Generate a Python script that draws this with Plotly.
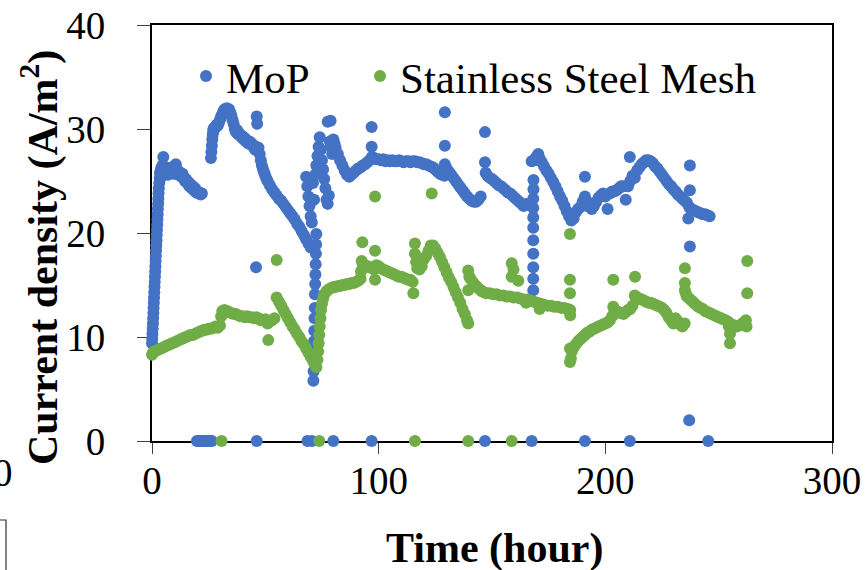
import plotly.graph_objects as go

# ---------------- data ----------------
mop_time = [
    0.0, 0.1, 0.2, 0.3, 0.4, 0.5, 0.6, 0.7, 0.8, 0.9, 1.0, 1.1, 1.2, 1.3, 1.4, 1.5, 1.6, 1.7, 1.8, 1.9,
    2.0, 2.1, 2.2, 2.3, 2.4, 2.5, 2.6, 2.7, 2.8, 2.9, 3.0, 3.2, 3.4,
    3.5, 3.8, 4.0, 4.3, 4.6, 5.0, 5.3, 5.6, 6.0, 6.5, 7.0, 7.5, 8.0, 8.5, 9.0, 9.5, 10.0, 10.5, 11.0,
    11.5, 12.0, 12.5, 13.0, 13.5, 14.0, 14.5, 15.0, 15.5, 16.0, 16.5, 17.0, 17.5, 18.0, 18.5, 19.0,
    19.5, 20.0, 20.5, 21.0, 21.5, 22.0,
    19.8, 20.4, 21.0, 21.6, 22.2, 22.8, 23.4, 24.0, 24.6, 25.2, 25.8, 26.4, 46.2,
    26.0, 26.2, 26.4, 26.6, 26.8, 27.0, 27.3, 27.6, 28.0, 28.5, 29.0, 29.5, 30.0, 30.5, 31.0, 31.5,
    32.0, 32.5, 33.0, 33.5, 34.0, 34.5, 35.0, 35.5, 36.0, 36.5, 37.0, 37.5, 38.0, 38.5, 39.0, 39.5,
    40.0, 40.5, 41.0, 41.5, 42.0, 42.5, 43.0, 43.5, 44.0, 44.5, 45.0, 45.5, 46.0, 46.5, 47.0, 47.5,
    48.0, 48.5, 49.0, 49.5, 50.0, 50.5, 51.0, 52.0, 53.0, 54.0, 55.0, 56.0, 57.0, 58.0, 59.0, 60.0,
    61.0, 62.0, 63.0, 64.0, 65.0, 66.0, 67.0, 68.0, 69.0, 70.0,
    46.2, 46.4, 45.9,
    71.2, 71.3, 71.35, 71.4, 71.5, 71.6, 71.7, 71.8, 71.9, 72.0, 72.1, 72.2, 72.3, 72.4, 72.5,
    68.0, 68.5, 69.0, 69.5, 70.0, 70.5, 71.0, 71.5, 72.0, 72.5, 73.0, 73.5, 74.0, 74.5, 75.0, 75.5,
    76.0, 76.5, 77.0, 77.5, 78.0, 78.5, 79.0, 79.5, 80.0, 80.5, 77.5, 78.8,
    81, 82, 83, 84, 85, 86, 87, 88, 89, 90, 91, 92, 93, 94, 95, 96, 97, 98, 99, 100, 101, 102, 103,
    104, 105, 106, 107, 108, 109, 110, 111, 112, 113, 114, 115, 116, 117, 118, 119, 120, 121, 122,
    123, 124, 125, 126, 127, 128, 129,
    96.9, 96.9, 129.2, 129.2, 129.2,
    130, 131, 132, 133, 134, 135, 136, 137, 138, 139, 140, 141, 142, 143, 144, 145,
    146.9, 146.9, 147.2,
    148, 149, 150, 151, 152, 153, 154, 155, 156, 157, 158, 159, 160, 161, 162, 163, 164, 165,
    168.2, 168.2, 168.2, 168.2, 168.2, 168.2, 168.2, 168.2, 168.2, 168.3, 168.3,
    167.5, 168.8, 169.5, 170.4, 171, 172, 173, 174, 175, 176, 177, 178, 179, 180, 181, 182, 183, 184,
    185, 186,
    187, 188, 189, 190, 191, 192, 193, 194, 195, 196, 197, 198, 199, 200, 201, 202, 203, 204, 205,
    206, 207, 208, 209, 210, 211, 212, 213, 214, 215, 216, 217, 218, 219, 220, 221, 222, 223, 224,
    225, 226, 227, 228, 229, 230, 231, 232, 233, 234, 235, 236, 237, 238, 239, 240, 241, 242, 243,
    244, 245, 246,
    191.0, 210.8, 237.3, 236.6, 237.3, 237.3, 237.0,
    68.6, 70.6, 80.0, 96.9, 146.9, 167.5, 191.0, 210.8, 245.4,
]
mop_current = [
    9.4, 9.8, 10.3, 10.8, 11.3, 11.8, 12.3, 12.8, 13.3, 13.8, 14.3, 14.8, 15.3, 15.8, 16.3, 16.8, 17.3,
    17.8, 18.3, 18.8, 19.3, 19.8, 20.3, 20.8, 21.3, 21.8, 22.3, 22.8, 23.3, 23.8, 24.3, 24.8, 25.3,
    25.8, 25.3, 26.2, 25.6, 26.5, 27.3, 26.4, 25.7, 25.9, 26.1, 25.6, 26.0, 25.8, 26.3, 26.0, 25.7,
    26.2, 26.6, 26.1, 25.6, 25.9, 25.6, 25.4, 25.7, 25.3, 25.0, 25.2, 24.8, 24.9, 24.5, 24.7, 24.3,
    24.5, 24.1, 24.3, 23.9, 24.0, 23.8, 23.9, 23.7, 23.8,
    0, 0, 0, 0, 0, 0, 0, 0, 0, 0, 0, 0, 0,
    27.2, 27.8, 28.4, 29.0, 29.5, 29.9, 30.1, 30.0, 30.2, 30.4, 30.3, 30.6, 30.9, 31.2, 31.4, 31.7,
    31.9, 31.8, 32.0, 31.8, 31.9, 31.6, 31.3, 30.9, 30.5, 30.0, 29.7, 29.9, 29.5, 29.6, 29.4, 29.2,
    29.3, 29.0, 29.1, 28.8, 28.9, 28.6, 28.8, 28.5, 28.6, 28.4, 28.2, 28.0, 28.3, 28.1, 28.2, 27.6,
    27.0, 26.5, 26.1, 25.8, 25.5, 25.2, 25.0, 24.6, 24.2, 23.9, 23.6, 23.3, 23.1, 22.8, 22.5, 22.2,
    21.9, 21.6, 21.3, 20.9, 20.6, 20.2, 19.8, 19.4, 19.0, 18.6,
    31.2, 30.5, 16.7,
    5.8, 6.7, 7.7, 8.6, 9.6, 10.6, 11.8, 12.8, 14.1, 15.1, 16.0, 17.0, 18.0, 18.9, 19.9,
    25.4, 24.5, 23.5, 22.6, 21.6, 21.0, 24.8, 23.2, 25.6, 26.5, 27.4, 28.3, 29.2, 28.0, 27.0, 26.1,
    25.2, 24.3, 23.2, 22.8, 23.6, 28.8, 28.3, 27.6, 29.0, 28.6, 30.7, 30.8,
    28.2, 27.6, 27.0, 26.5, 26.0, 25.6, 25.4, 25.6, 25.8, 26.0, 26.2, 26.3, 26.5, 26.6, 26.8, 27.0,
    27.3, 27.2, 27.1, 27.1, 27.0, 27.1, 26.9, 27.0, 26.9, 27.0, 26.9, 26.9, 27.0, 26.9, 26.8, 26.9,
    26.9, 26.8, 26.9, 26.9, 26.8, 26.8, 26.7, 26.6, 26.6, 26.5, 26.4, 26.3, 26.1, 25.9, 25.7, 25.6,
    25.5,
    30.2, 28.3, 31.6, 28.4, 26.6,
    26.2, 25.9, 25.6, 25.3, 25.0, 24.7, 24.4, 24.1, 23.8, 23.5, 23.3, 23.1, 23.0, 23.0, 23.2, 23.5,
    29.7, 26.8, 25.8,
    25.5, 25.3, 25.2, 25.0, 24.8, 24.6, 24.5, 24.3, 24.1, 23.9, 23.8, 23.6, 23.4, 23.2, 23.0, 22.8,
    22.6, 22.8,
    14.5, 15.6, 16.7, 18.0, 19.3, 20.5, 21.5, 22.4, 23.3, 24.2, 25.1,
    26.9, 27.0, 27.3, 27.6, 27.2, 26.8, 26.4, 26.0, 25.7, 25.3, 24.9, 24.5, 24.0, 23.5, 23.1, 22.6,
    22.1, 21.6, 21.2, 21.4,
    22.0, 22.3, 22.5, 23.0, 23.5, 23.0, 22.5, 22.3, 22.6, 23.0, 23.4, 23.6, 23.8, 23.5, 22.3, 23.8,
    24.0, 24.0, 24.1, 24.3, 24.5, 24.5, 23.2, 24.5, 25.0, 25.5, 25.3, 26.0, 26.3, 26.6, 26.8, 27.0,
    27.0, 26.9, 26.7, 26.4, 26.2, 25.9, 25.6, 25.3, 25.0, 24.7, 24.5, 24.2, 24.0, 23.7, 23.5, 23.3,
    23.1, 22.9, 22.5, 22.2, 22.2, 22.1, 22.0, 21.9, 21.8, 21.8, 21.7, 21.6,
    25.4, 27.3, 26.5, 21.4, 18.7, 24.1, 2.0,
    0, 0, 0, 0, 0, 0, 0, 0, 0,
]

ss_time = [
    0, 0.5, 1, 2, 3, 4, 5, 6, 7, 8, 9, 10, 11, 12, 13, 14, 15, 16, 17, 18, 19, 20, 21, 22, 23, 24, 25,
    26, 27, 28, 29, 30, 30.5, 31, 32, 33, 34, 35, 36, 37, 38, 39, 40, 41, 42, 43, 44, 45, 46, 47, 48,
    49, 50, 51, 52, 53, 54, 51.3, 55.0,
    55, 56, 57, 58, 59, 60, 61, 62, 63, 64, 65, 66, 67, 68, 69, 70, 71, 72, 72.5,
    73, 73.3, 73.5, 73.8, 74, 74.3, 74.6, 75, 75.5, 76, 77, 78, 79, 80, 81, 82, 83, 84, 85, 86, 87,
    88, 89, 90, 91, 92,
    92.2, 92.5, 92.8, 93, 94, 95, 96, 97, 98, 98.4, 98.4, 98.4, 99, 100, 101, 102, 103, 104, 105, 106,
    107, 108, 109, 110, 111, 112, 113, 114, 115, 115.3, 116, 116, 116.5, 117, 118, 119, 120, 121, 122,
    123, 123.4, 124, 125, 126, 127, 128, 129, 130, 131, 132, 133, 134, 135, 136, 137, 138, 139, 139.5,
    139.5, 139.5, 140, 140.5, 141.5, 142.5, 143.5, 144.5, 145.5, 146.5, 147.5, 149, 150.5, 152, 153.5,
    155, 156.5, 158, 159.5, 161, 162.5, 164, 165.5, 167, 168.5, 170, 171.5, 173, 174.5, 176, 177.5,
    179, 180.5, 182, 183.5, 184.5, 184.5,
    158.7, 158.7, 159.5, 161.6, 165.0, 171.0, 184.4, 184.4, 184.4,
    184.4, 184.4, 184.8, 185.2, 186, 187, 188, 189, 190, 191, 192, 193, 194, 195, 196, 197, 198, 199,
    200, 201, 202, 203, 203.5, 204, 205, 206, 207, 208, 209, 210, 211, 212, 213, 213.5, 214, 215, 216,
    217, 218, 219, 220, 221, 222, 223, 224, 225, 226, 227, 228, 229, 230, 231, 232, 233, 234, 235,
    235.1, 235.1, 235.1, 235.5, 236, 237, 238, 239, 240, 241, 242, 243, 244, 245, 246, 247, 248, 249,
    250, 251, 252, 253, 254, 254.5, 255, 255, 256, 257, 258, 259, 260, 261, 262, 262.3, 262.6, 262.6,
    203.5, 213.1,
    30.7, 73.8, 116.0, 139.5, 158.7,
]
ss_current = [
    8.3, 8.5, 8.6, 8.7, 8.8, 8.9, 9.0, 9.1, 9.2, 9.3, 9.4, 9.5, 9.6, 9.7, 9.8, 9.9, 10.0, 10.1, 10.2,
    10.2, 10.3, 10.4, 10.5, 10.6, 10.7, 10.7, 10.8, 10.8, 10.9, 11.0, 10.9, 11.1, 12.0, 12.5, 12.6,
    12.5, 12.4, 12.3, 12.2, 12.2, 12.1, 12.0, 12.0, 11.9, 12.0, 11.9, 11.9, 11.8, 11.9, 11.8, 11.6,
    11.6, 11.7, 11.3, 11.5, 11.6, 11.8, 9.7, 17.4,
    13.8, 13.4, 13.0, 12.6, 12.2, 11.8, 11.4, 11.0, 10.7, 10.3, 10.0, 9.6, 9.3, 8.9, 8.5, 8.1, 7.7,
    7.3, 7.1,
    7.8, 8.6, 9.4, 10.2, 11.0, 11.8, 12.6, 13.2, 13.7, 14.1, 14.4, 14.6, 14.7, 14.8, 14.8, 14.9, 14.9,
    15.0, 15.0, 15.1, 15.1, 15.2, 15.2, 15.3, 15.4, 15.6,
    16.3, 17.3, 19.1, 17.0, 16.9, 16.8, 16.7, 16.6, 16.5, 18.3, 15.5, 23.5, 16.9, 16.8, 16.6, 16.5,
    16.4, 16.3, 16.2, 16.1, 16.0, 15.9, 15.8, 15.8, 15.7, 15.6, 15.5, 15.5, 15.3, 14.2, 19.0, 18.0,
    17.2, 16.6, 16.5, 16.8, 17.5, 17.8, 18.3, 18.8, 23.8, 18.8, 18.5, 18.1, 17.7, 17.2, 16.7, 16.2,
    15.7, 15.3, 14.8, 14.3, 13.8, 13.3, 12.7, 12.2, 11.6, 11.3,
    16.4, 14.5, 15.8, 15.6, 15.3, 15.0, 14.8, 14.6, 14.4, 14.3, 14.2, 14.2, 14.1, 14.1, 14.0, 14.0,
    13.9, 13.9, 13.8, 13.8, 13.7, 13.6, 13.6, 13.5, 13.4, 13.3, 13.2, 13.1, 13.0, 13.0, 12.9, 12.9,
    12.8, 12.8, 12.7, 12.6, 12.1,
    17.1, 15.8, 16.5, 15.4, 13.3, 12.7, 19.9, 15.5, 14.2,
    8.9, 7.6, 7.9, 8.6, 9.0, 9.3, 9.6, 9.8, 10.0, 10.2, 10.4, 10.5, 10.7, 10.8, 10.9, 11.0, 11.1,
    11.2, 11.3, 11.4, 11.6, 12.0, 12.9, 12.5, 12.3, 12.4, 12.3, 12.2, 12.4, 12.6, 12.7, 13.0, 14.0,
    13.6, 13.8, 13.7, 13.6, 13.5, 13.4, 13.3, 13.3, 13.2, 13.1, 13.0, 12.9, 12.8, 12.6, 12.3, 11.9,
    11.6, 11.3, 11.8, 11.5, 11.2, 11.0, 11.3, 14.5, 15.2, 16.6, 14.2, 13.9, 13.7, 13.5, 13.3, 13.1,
    12.9, 12.8, 12.7, 12.5, 12.4, 12.3, 12.2, 12.1, 12.0, 11.9, 11.8, 11.7, 11.6, 11.5, 11.0, 10.3,
    9.4, 11.2, 11.0, 11.0, 11.1, 11.2, 11.4, 11.6, 11.0, 17.3, 14.2,
    15.5, 15.8,
    0, 0, 0, 0, 0,
]

x_ticks = [0, 100, 200, 300]
y_ticks = [0, 10, 20, 30, 40]
series_names = ["MoP", "Stainless Steel Mesh"]
series_colors = ["#4472C4", "#70AD47"]

W, H = 867, 570
L, R, T, B = 152, 35, 25, 129
pw, ph = W - L - R, H - T - B


def px_x(p):
    return (p - L) / pw


def px_y(p):
    return (H - B - p) / ph


FONT = "Liberation Serif"

fig = go.Figure()
for name, col, xs, ys, leg in [
    (series_names[0], series_colors[0], mop_time, mop_current, "legend"),
    (series_names[1], series_colors[1], ss_time, ss_current, "legend2"),
]:
    fig.add_trace(go.Scatter(
        x=xs, y=ys, mode="markers", name=name, legend=leg,
        marker=dict(size=12, color=col, line=dict(width=0)),
        cliponaxis=False,
    ))

axis_common = dict(
    showline=True, linecolor="black", linewidth=2, mirror=True,
    showgrid=False, zeroline=False, ticks="outside", tickcolor="#404040", tickwidth=1.3,
    tickfont=dict(family=FONT, size=39, color="black"), layer="below traces",
)
fig.update_xaxes(range=[0, 300], tickvals=x_ticks, ticklen=11, ticklabelstandoff=-7, **axis_common)
fig.update_yaxes(range=[0, 40], tickvals=y_ticks, ticklen=13, ticklabelstandoff=24, **axis_common)

legend_common = dict(
    orientation="h", xanchor="left", yanchor="middle",
    font=dict(family=FONT, size=43, color="black"), bgcolor="rgba(0,0,0,0)",
    itemsizing="trace", borderwidth=0,
)

fig.update_layout(
    width=W, height=H,
    margin=dict(l=L, r=R, t=T, b=B, autoexpand=False),
    paper_bgcolor="white", plot_bgcolor="white",
    showlegend=True,
    legend=dict(x=px_x(186), y=px_y(76), **legend_common),
    legend2=dict(x=px_x(360), y=px_y(76), **legend_common),
    annotations=[
        dict(text="<b>Time (hour)</b>", x=px_x(494), y=px_y(548), xref="paper", yref="paper",
             showarrow=False, xanchor="center", yanchor="middle",
             font=dict(family=FONT, size=42, color="black")),
        dict(text="<b>Current density (A/m<sup>2</sup>)</b>", x=px_x(40), y=px_y(258),
             xref="paper", yref="paper", showarrow=False, textangle=-90,
             xanchor="center", yanchor="middle",
             font=dict(family=FONT, size=42, color="black")),
        dict(text="0", x=px_x(15), y=px_y(472), xref="paper", yref="paper", showarrow=False,
             xanchor="right", yanchor="middle", font=dict(family=FONT, size=39, color="black")),
    ],
    shapes=[
        dict(type="path", xref="paper", yref="paper",
             path=f"M {px_x(0)},{px_y(520)} L {px_x(6)},{px_y(520)} L {px_x(6)},{px_y(575)}",
             line=dict(color="#333333", width=1.2)),
    ],
)

fig.write_html("out.html")
